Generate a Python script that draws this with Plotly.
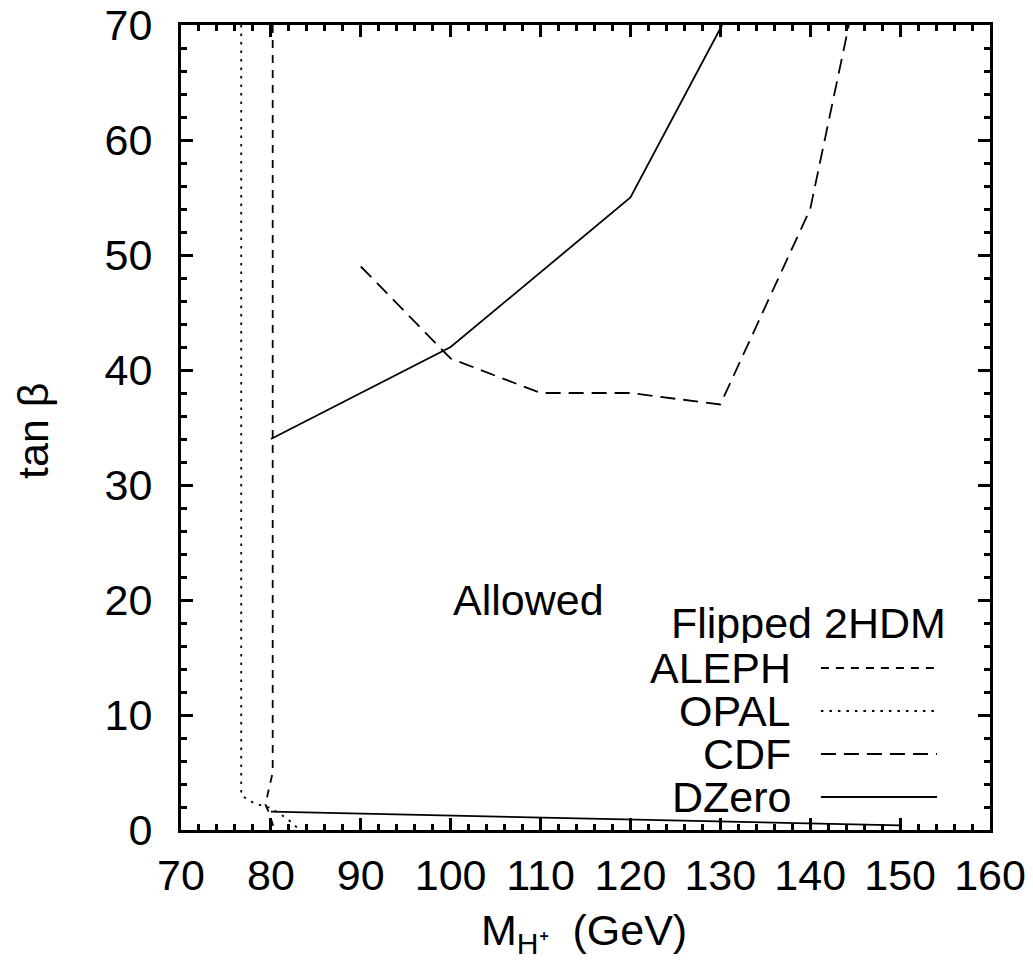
import plotly.graph_objects as go

# ---- data ----
aleph_x = [80.2, 80.2, 79.7, 79.4, 79.8, 80.4]
aleph_y = [70, 5, 3.3, 2.2, 1.5, 0]
opal_x = [76.7, 76.7, 78.2, 80.0, 81.8, 83.2]
opal_y = [70, 3.0, 2.3, 1.9, 1.0, 0]
cdf_x = [90, 100, 110, 120, 130, 140, 144.3]
cdf_y = [49, 41, 38, 38, 37, 54, 70]
dzero_up_x = [80, 100, 120, 130.2]
dzero_up_y = [34, 42, 55, 70]
dzero_low_x = [80, 150]
dzero_low_y = [1.6, 0.4]
x_ticks = [70, 80, 90, 100, 110, 120, 130, 140, 150, 160]
y_ticks = [0, 10, 20, 30, 40, 50, 60, 70]
legend_names = ["ALEPH", "OPAL", "CDF", "DZero"]

FONT = "Liberation Sans, Arial, Helvetica, sans-serif"
FS = 43

styles = {
    "ALEPH": dict(color="black", width=1.8, dash="8px,7px"),
    "OPAL": dict(color="black", width=1.8, dash="2.5px,6px"),
    "CDF": dict(color="black", width=1.8, dash="15px,8px"),
    "DZero": dict(color="black", width=1.8),
}

fig = go.Figure()
fig.add_trace(go.Scatter(x=aleph_x, y=aleph_y, mode="lines", line=styles["ALEPH"], name="ALEPH"))
fig.add_trace(go.Scatter(x=opal_x, y=opal_y, mode="lines", line=styles["OPAL"], name="OPAL"))
fig.add_trace(go.Scatter(x=cdf_x, y=cdf_y, mode="lines", line=styles["CDF"], name="CDF"))
fig.add_trace(go.Scatter(x=dzero_up_x, y=dzero_up_y, mode="lines", line=styles["DZero"], name="DZero"))
fig.add_trace(go.Scatter(x=dzero_low_x, y=dzero_low_y, mode="lines", line=styles["DZero"], name="DZero", showlegend=False))

axis_common = dict(
    showgrid=False, zeroline=False, showline=True, linecolor="black", linewidth=3,
    mirror="ticks", ticks="inside", ticklen=12, tickwidth=3, tickcolor="black",
    automargin=False,
    tickfont=dict(family=FONT, size=FS, color="black"),
    minor=dict(ticks="inside", ticklen=6, tickwidth=3, tickcolor="black", dtick=2, showgrid=False),
)
fig.update_xaxes(range=[70, 160], tickvals=x_ticks, ticklabelstandoff=5, **axis_common)
fig.update_yaxes(range=[0, 70], tickvals=y_ticks, ticklabelstandoff=17, **axis_common)

annotations = [
    dict(x=100, y=20, xref="x", yref="y", text="Allowed", showarrow=False,
         xanchor="left", yanchor="middle", font=dict(family=FONT, size=FS, color="black")),
    dict(x=0, y=0.4957, xref="paper", yref="paper", text="tan β", textangle=-90, showarrow=False,
         xanchor="center", yanchor="middle", xshift=-148, font=dict(family=FONT, size=FS, color="black")),
    dict(x=0.498, y=0, xref="paper", yref="paper", text="M<sub>H⁺</sub>  (GeV)", showarrow=False,
         xanchor="center", yanchor="middle", yshift=-103, font=dict(family=FONT, size=FS, color="black")),
    dict(x=0.948, y=(830 - 623) / 805, xref="paper", yref="paper", text="Flipped 2HDM", showarrow=False,
         xanchor="right", yanchor="middle", height=40, font=dict(family=FONT, size=FS, color="black")),
]
shapes = []
row_px = [668, 711, 754, 797]
for name, py in zip(legend_names, row_px):
    yp = (830 - py) / 805
    annotations.append(dict(x=0.7565, y=yp, xref="paper", yref="paper", text=name, showarrow=False,
                            xanchor="right", yanchor="middle", height=40,
                            font=dict(family=FONT, size=FS, color="black")))
    st = styles[name]
    shapes.append(dict(type="line", xref="paper", yref="paper", x0=0.791, x1=0.9345, y0=yp, y1=yp,
                       line=st))

fig.update_layout(
    width=1033, height=962,
    margin=dict(l=181, r=43, t=25, b=132),
    plot_bgcolor="white", paper_bgcolor="white",
    showlegend=False,
    annotations=annotations, shapes=shapes,
)
fig.write_html("out.html", config={"displayModeBar": False},
               post_script="document.body.style.margin='0';document.body.style.overflow='hidden';")
